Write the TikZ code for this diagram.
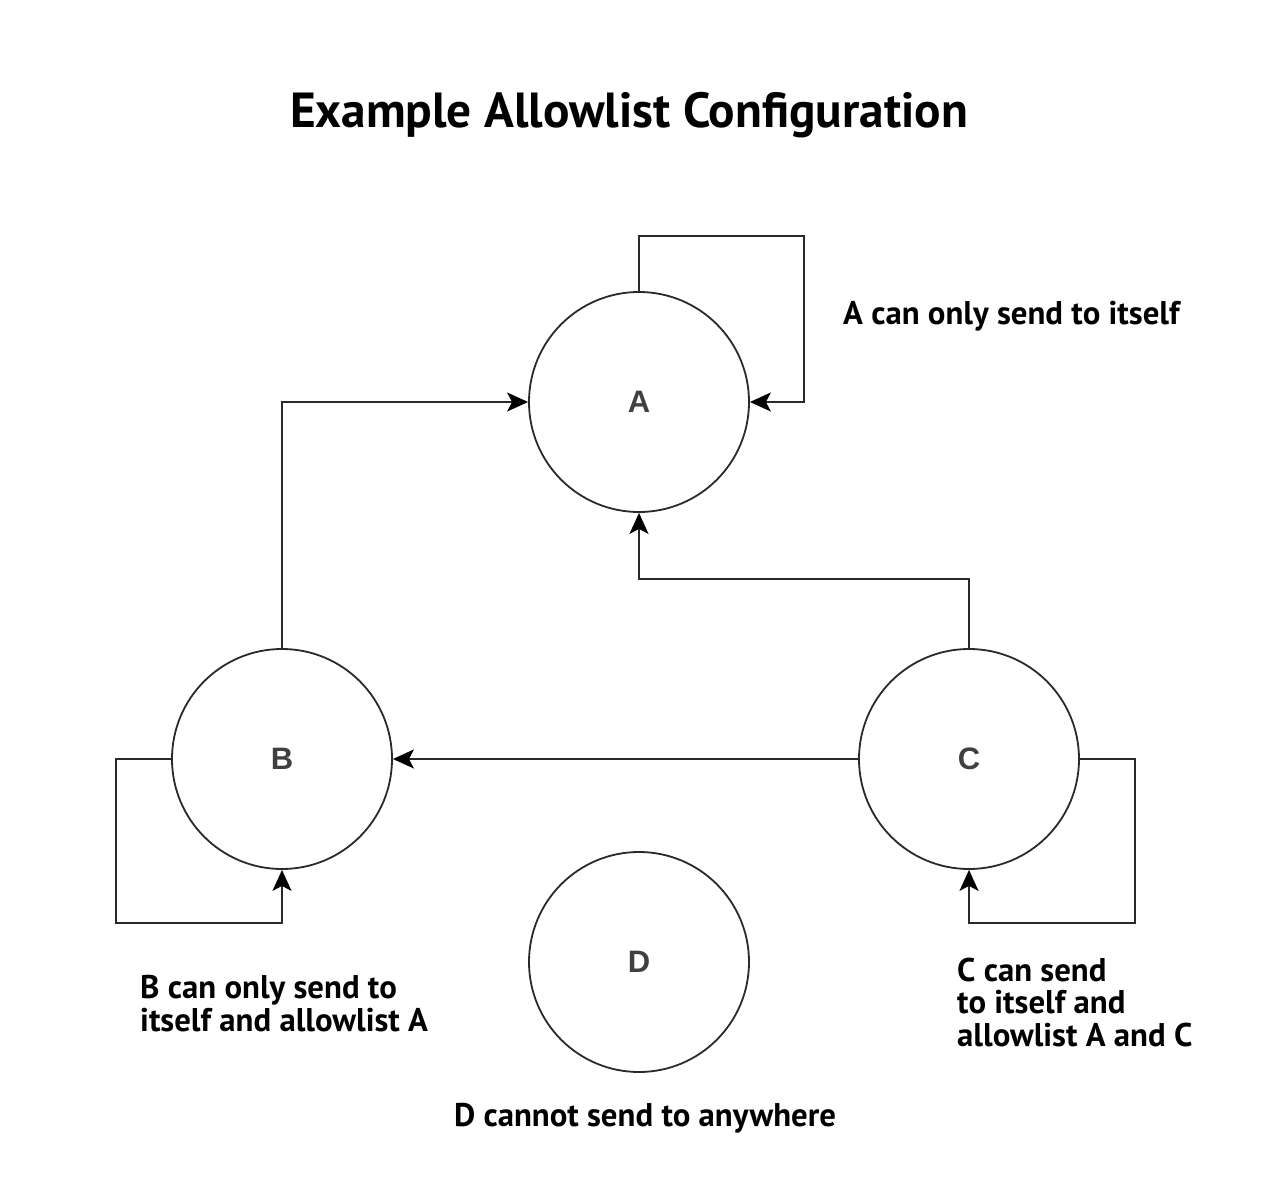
\documentclass[tikz,border=0pt]{standalone}
\usepackage{fontspec}
\setmainfont{PT Sans}
\newfontfamily\nodefont{Liberation Sans}
\usetikzlibrary{arrows.meta}
\definecolor{linec}{HTML}{2A2A2A}
\definecolor{letterc}{HTML}{404040}
\tikzset{
  circ/.style={circle, draw=linec, line width=1.8pt, minimum size=220pt, inner sep=0pt, font=\nodefont\bfseries\fontsize{31}{34}\selectfont, text=letterc},
  conn/.style={draw=linec, line width=1.8pt, -{Stealth[length=21pt,width=19pt,inset=5pt,color=black]}},
  lbl/.style={font=\bfseries\fontsize{32.8}{32.5}\selectfont, inner sep=0pt, align=left},
}
\begin{document}
\begin{tikzpicture}[x=1pt,y=-1pt]
\useasboundingbox (0,0) rectangle (1264,1182);
\fill[white] (0,0) rectangle (1264,1182);
\node[font=\bfseries\fontsize{49.3}{54}\selectfont, anchor=base] (title) at (629,128) {Example Allowlist Configuration};
\node[circ] (A) at (639,402) {A};
\node[circ] (B) at (282,759) {B};
\node[circ] (C) at (969,759) {C};
\node[circ] (D) at (639,962) {D};
\draw[conn] (A.north) -- ++(0,-55) -| (804,402) -- (A.east);
\draw[conn] (B.north) |- (A.west);
\draw[conn] (C.north) -- ++(0,-69) -| (A.south);
\draw[conn] (C.west) -- (B.east);
\draw[conn] (B.west) -- ++(-55,0) |- (282,923) -- (B.south);
\draw[conn] (C.east) -- ++(55,0) |- (969,923) -- (C.south);
\node[lbl, anchor=base west] (la) at (843,325) {A can only send to itself};
\node[lbl, anchor=base west] (lb) at (140,1031) {B can only send to\\itself and allowlist A};
\node[lbl, anchor=base west] (lc) at (957,1046) {C can send\\to itself and\\allowlist A and C};
\node[lbl, anchor=base] (ld) at (645,1126) {D cannot send to anywhere};
\end{tikzpicture}
\end{document}
